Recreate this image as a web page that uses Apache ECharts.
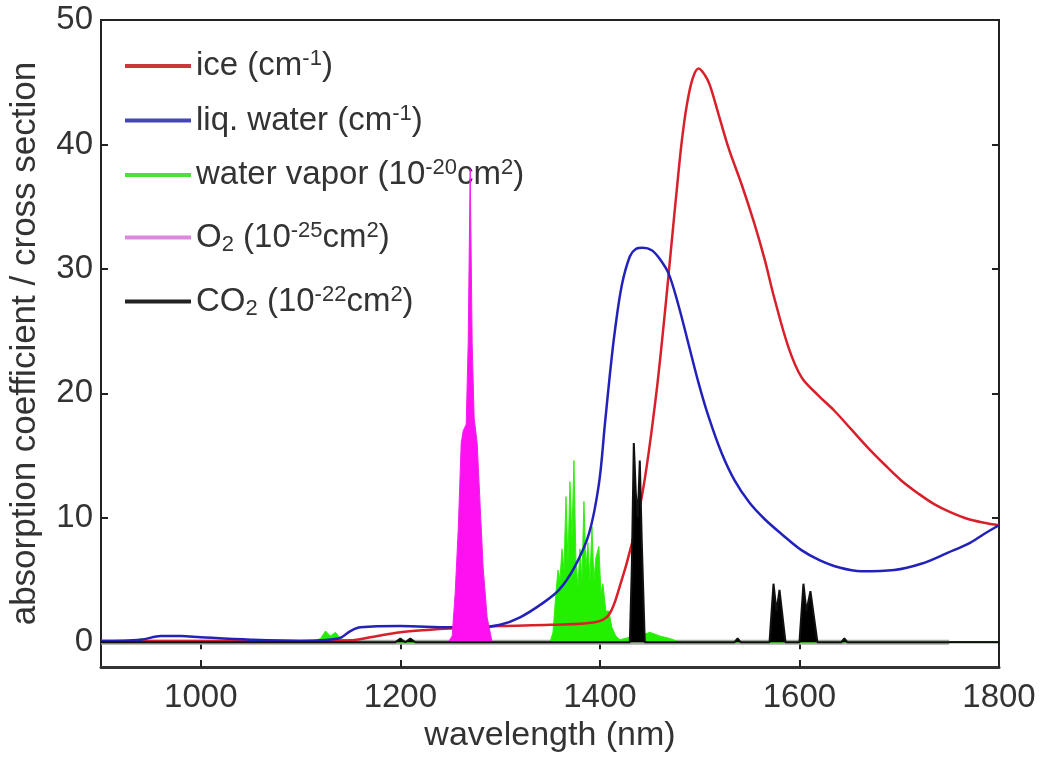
<!DOCTYPE html>
<html>
<head>
<meta charset="utf-8">
<script src="https://cdn.jsdelivr.net/npm/echarts@6/dist/echarts.min.js"></script>
<style>
html,body{margin:0;padding:0;background:#fff;}
#chart{width:1043px;height:758px;}
</style>
</head>
<body>
<div id="chart"></div>
<script>
// ---- data ----
const xTickValues = [1000, 1200, 1400, 1600, 1800];
const yTickValues = [0, 10, 20, 30, 40, 50];
const seriesNames = ['ice (cm-1)', 'liq. water (cm-1)', 'water vapor (10-20cm2)', 'O2 (10-25cm2)', 'CO2 (10-22cm2)'];

const iceData = [
  [900,0.1],[1000,0.1],[1100,0.1],[1150,0.15],[1170,0.4],[1200,0.8],[1230,1.0],[1250,1.1],[1300,1.3],
  [1350,1.4],[1395,1.6],[1409,2.2],[1420,4.5],[1432,7.9],[1442,11.7],[1449,15.3],[1457,20.3],
  [1462,24.0],[1467,28.0],[1472,32.2],[1477,36.3],[1482,40.2],[1487,43.1],[1493,45.3],[1499,46.1],
  [1505,45.6],[1510,44.8],[1519,42.4],[1529,39.7],[1542,36.8],[1555,33.6],[1565,30.8],[1575,27.6],
  [1589,23.7],[1602,21.3],[1618,19.9],[1635,18.6],[1652,17.1],[1669,15.6],[1685,14.3],[1702,13.0],
  [1720,11.9],[1735,11.1],[1750,10.5],[1769,9.9],[1785,9.6],[1800,9.4]
];
const waterData = [
  [900,0.1],[940,0.2],[960,0.5],[980,0.5],[1000,0.4],[1050,0.2],[1100,0.1],[1138,0.3],[1150,0.9],
  [1160,1.2],[1200,1.3],[1250,1.2],[1280,1.2],[1300,1.4],[1320,2.0],[1342,3.1],[1359,4.2],[1375,6.1],
  [1389,8.7],[1399,12.7],[1405,17.5],[1410,21.5],[1415,25.0],[1422,28.7],[1430,31.0],[1436,31.6],
  [1443,31.7],[1452,31.5],[1460,30.8],[1469,29.6],[1479,27.0],[1489,23.9],[1499,20.8],[1509,18.1],
  [1522,15.2],[1535,13.0],[1550,11.2],[1565,9.9],[1582,8.7],[1602,7.4],[1620,6.6],[1640,6.0],
  [1662,5.7],[1695,5.8],[1722,6.3],[1749,7.2],[1769,7.9],[1785,8.7],[1800,9.4]
];
const vaporData = [
  [900,0],[930,0],[940,0.3],[950,0],[1110,0],[1120,0.3],[1125,0.9],[1130,0.5],[1135,0.8],[1140,0.3],
  [1150,0],[1350,0],[1353,0.8],[1356,4.0],[1358,5.8],[1360,5.0],[1362,7.5],[1364,5.8],[1366,11.7],
  [1368,6.5],[1370,12.9],[1372,8.5],[1374,14.6],[1376,6.5],[1378,4.5],[1380,7.5],[1382,5.0],
  [1384,11.3],[1386,6.0],[1388,8.0],[1390,5.0],[1392,9.3],[1394,5.0],[1396,6.8],[1399,7.7],
  [1401,4.0],[1403,4.7],[1406,2.5],[1409,2.5],[1412,1.2],[1416,0.5],[1420,0.2],[1430,0.4],
  [1440,0.5],[1450,0.8],[1460,0.5],[1470,0.3],[1480,0],[1800,0]
];
const o2Data = [
  [1248,0],[1252,0.5],[1255,4],[1258,9],[1261,16],[1263,17],[1266,17.5],[1268,24],[1270,38],
  [1272,24],[1274,18],[1277,16],[1280,11],[1283,6],[1287,2],[1292,0]
];
const co2Data = [
  [900,0],[1195,0],[1200,0.3],[1205,0],[1210,0.3],[1215,0],[1430,0],[1432,6],[1434,16],[1436,12],
  [1438,10],[1440,14.6],[1442,8],[1445,0],[1535,0],[1538,0.3],[1541,0],[1570,0],[1574,4.7],
  [1577,2.5],[1580,4.2],[1586,0],[1600,0],[1604,4.7],[1607,2.5],[1611,4.1],[1618,0],[1642,0],
  [1645,0.3],[1648,0],[1800,0]
];
const baselineData = [[900,0],[1750,0]];

// ---- chart ----
const FONT = '"Liberation Sans", Arial, sans-serif';
const richLabels = {
  'ice (cm-1)': '{n|ice (cm}{sup|-1}{n|)}',
  'liq. water (cm-1)': '{n|liq. water (cm}{sup|-1}{n|)}',
  'water vapor (10-20cm2)': '{n|water vapor (10}{sup|-20}{n|cm}{sup|2}{n|)}',
  'O2 (10-25cm2)': '{n|O}{sub|2}{n| (10}{sup|-25}{n|cm}{sup|2}{n|)}',
  'CO2 (10-22cm2)': '{n|CO}{sub|2}{n| (10}{sup|-22}{n|cm}{sup|2}{n|)}'
};
const plainNum = function (v) { return String(v); };

const chart = echarts.init(document.getElementById('chart'), null, {renderer: 'canvas'});
const option = {
  animation: false,
  backgroundColor: '#fff',
  grid: {left: 98, right: 44, top: 20, bottom: 87, show: true, borderColor: '#222', borderWidth: 2, backgroundColor: 'transparent'},
  legend: {
    orient: 'vertical', left: 120, top: 43, itemWidth: 66, itemHeight: 4, itemGap: 20,
    icon: 'rect',
    data: seriesNames,
    formatter: function (name) { return richLabels[name] || name; },
    textStyle: {
      fontFamily: FONT, fontSize: 33, color: '#333',
      rich: {
        n: {fontFamily: FONT, fontSize: 33, color: '#333', lineHeight: 36},
        sup: {fontFamily: FONT, fontSize: 22, color: '#333', verticalAlign: 'top', lineHeight: 22},
        sub: {fontFamily: FONT, fontSize: 22, color: '#333', verticalAlign: 'bottom', lineHeight: 22, padding: [22, 0, 0, 0]}
      }
    }
  },
  xAxis: [{
    type: 'value', min: 900, max: 1800, position: 'bottom',
    name: 'wavelength (nm)', nameLocation: 'middle', nameGap: 50,
    nameTextStyle: {fontFamily: FONT, fontSize: 34, color: '#333'},
    axisLine: {show: true, onZero: false, lineStyle: {color: '#333', width: 3}},
    axisTick: {show: true, inside: true, length: 7, customValues: xTickValues, lineStyle: {color: '#222', width: 2}},
    axisLabel: {show: true, customValues: xTickValues, formatter: plainNum, fontFamily: FONT, fontSize: 33, color: '#333', margin: 14},
    splitLine: {show: false}
  }, {
    type: 'value', min: 900, max: 1800, position: 'top',
    axisLine: {show: true, lineStyle: {color: '#222', width: 2}},
    axisTick: {show: true, inside: true, length: 7, customValues: xTickValues, lineStyle: {color: '#222', width: 2}},
    axisLabel: {show: false}, splitLine: {show: false}
  }],
  yAxis: [{
    type: 'value', min: -2, max: 50, position: 'left',
    name: 'absorption coefficient / cross section', nameLocation: 'middle', nameGap: 58,
    nameTextStyle: {fontFamily: FONT, fontSize: 35, color: '#333'},
    axisLine: {show: true, onZero: false, lineStyle: {color: '#222', width: 2}},
    axisTick: {show: true, inside: true, length: 7, customValues: yTickValues, lineStyle: {color: '#222', width: 2}},
    axisLabel: {show: true, customValues: yTickValues, formatter: plainNum, fontFamily: FONT, fontSize: 33, color: '#333', margin: 8},
    splitLine: {show: false}
  }, {
    type: 'value', min: -2, max: 50, position: 'right',
    axisLine: {show: true, lineStyle: {color: '#222', width: 2}},
    axisTick: {show: true, inside: true, length: 7, customValues: yTickValues, lineStyle: {color: '#222', width: 2}},
    axisLabel: {show: false}, splitLine: {show: false}
  }],
  series: [
    {name: '_base', type: 'line', data: baselineData, symbol: 'none', z: 1, silent: true,
     lineStyle: {color: '#a8a8a8', width: 5}},
    {name: seriesNames[2], type: 'line', data: vaporData, symbol: 'none', z: 2,
     lineStyle: {color: '#33ee11', width: 1}, itemStyle: {color: '#44e633'},
     areaStyle: {color: '#22f000', opacity: 1, origin: 0}},
    {name: seriesNames[0], type: 'line', data: iceData, symbol: 'none', z: 3, smooth: 0.35,
     lineStyle: {color: '#d8202a', width: 2.5}, itemStyle: {color: '#c83838'}},
    {name: seriesNames[1], type: 'line', data: waterData, symbol: 'none', z: 3, smooth: 0.35,
     lineStyle: {color: '#2222bb', width: 2.5}, itemStyle: {color: '#4444bb'}},
    {name: seriesNames[3], type: 'line', data: o2Data, symbol: 'none', z: 4,
     lineStyle: {color: '#ee22ee', width: 1}, itemStyle: {color: '#dd88dd'},
     areaStyle: {color: '#ff10f0', opacity: 1, origin: 0}},
    {name: seriesNames[4], type: 'line', data: co2Data, symbol: 'none', z: 5,
     lineStyle: {color: '#111', width: 2}, itemStyle: {color: '#222'},
     areaStyle: {color: '#000', opacity: 1, origin: 0}}
  ]
};
chart.setOption(option);
</script>
</body>
</html>
